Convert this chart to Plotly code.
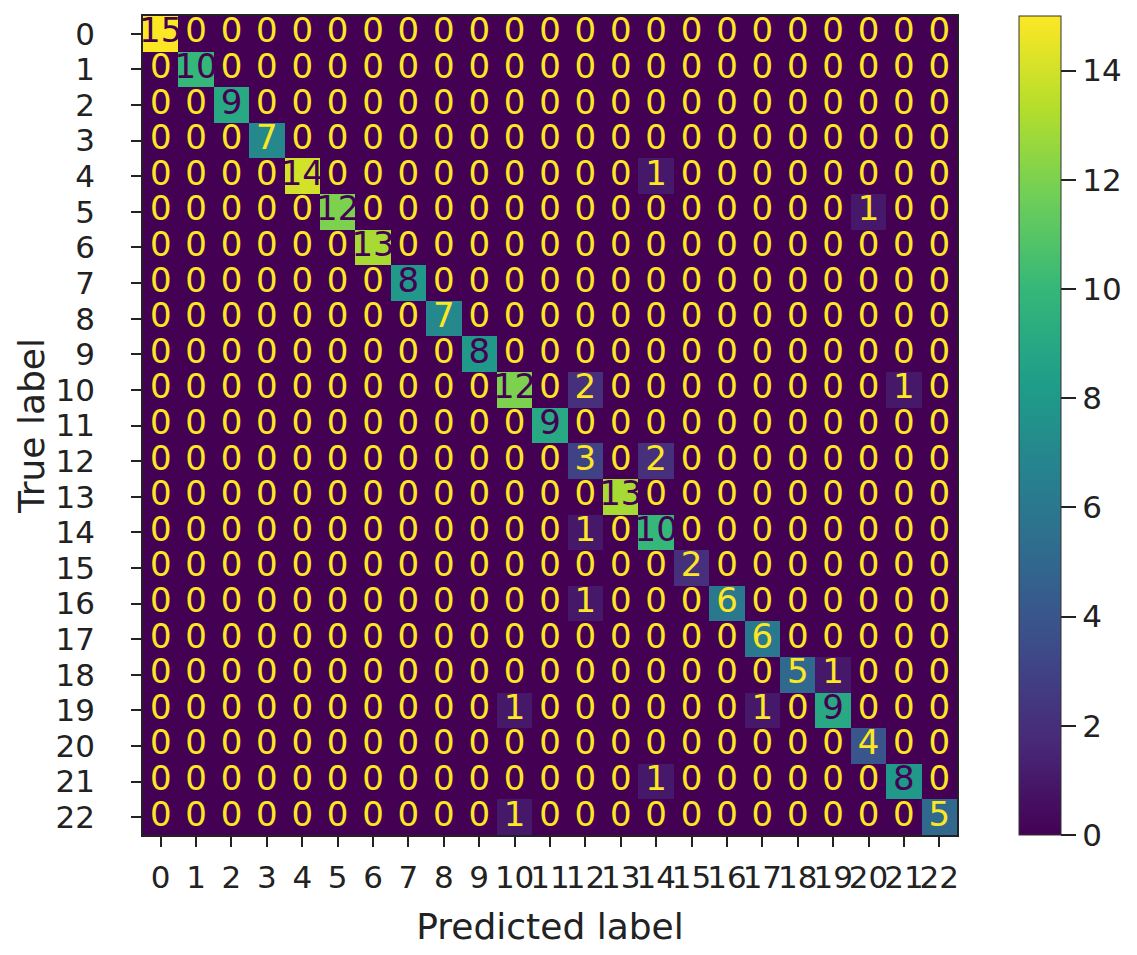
import numpy as np
import plotly.graph_objects as go

labels = list(range(23))

# diagonal counts (correct predictions per class)
diagonal = [15, 10, 9, 7, 14, 12, 13, 8, 7, 8, 12, 9, 3, 13, 10, 2, 6, 6, 5, 9, 4, 8, 5]

# misclassifications: (true label, predicted label, count)
off_diagonal = [
    (4, 14, 1),
    (5, 20, 1),
    (10, 12, 2),
    (10, 21, 1),
    (12, 14, 2),
    (14, 12, 1),
    (16, 12, 1),
    (18, 19, 1),
    (19, 10, 1),
    (19, 17, 1),
    (21, 14, 1),
    (22, 10, 1),
]

cm = np.zeros((23, 23), dtype=int)
for i, v in enumerate(diagonal):
    cm[i, i] = v
for t, p, v in off_diagonal:
    cm[t, p] = v

vmax = cm.max()
FONT = "DejaVu Sans"

fig = go.Figure()

fig.add_trace(go.Heatmap(
    z=cm, x=labels, y=labels,
    colorscale="Viridis", zmin=0, zmax=vmax,
    xgap=0, ygap=0, hoverinfo="z",
    colorbar=dict(
        x=1.076, xanchor="left", y=0.5, yanchor="middle",
        xpad=0, ypad=0,
        len=1.0, lenmode="fraction", thickness=42,
        outlinewidth=1, outlinecolor="#333333",
        tickvals=list(range(0, 15, 2)), ticks="outside", ticklen=15,
        tickwidth=1.5, tickcolor="#222222",
        tickfont=dict(family=FONT, size=31, color="#222222"),
    ),
))

# cell labels; light text on dark cells, dark text on bright cells
xs, ys, txt, cols = [], [], [], []
for i in labels:
    for j in labels:
        xs.append(j)
        ys.append(i)
        txt.append(str(cm[i, j]))
        cols.append("#440154" if cm[i, j] >= vmax / 2 else "#fde725")

fig.add_trace(go.Scatter(
    x=xs, y=ys, mode="text", text=txt,
    textfont=dict(family=FONT, size=34, color=cols),
    hoverinfo="skip", showlegend=False,
))

axis_common = dict(
    tickmode="array", tickvals=labels, ticktext=[str(v) for v in labels],
    ticks="outside", ticklen=10, tickwidth=1.5, tickcolor="#222222",
    showline=True, linecolor="#222222", linewidth=1.5, mirror=True,
    showgrid=False, zeroline=False, automargin=False,
    tickfont=dict(family=FONT, size=31, color="#222222"),
)

fig.update_xaxes(
    range=[-0.5, 22.5], tickangle=0, ticklabelstandoff=4, **axis_common,
    title=dict(text="Predicted label", standoff=20,
               font=dict(family=FONT, size=36, color="#222222")),
)
fig.update_yaxes(
    range=[22.5, -0.5], ticklabelstandoff=30, **axis_common,
    title=dict(text="True label", standoff=0,
               font=dict(family=FONT, size=36, color="#222222")),
)

fig.update_layout(
    width=1137, height=955,
    margin=dict(l=135, r=188, t=8, b=128, autoexpand=False),
    plot_bgcolor="white", paper_bgcolor="white",
    showlegend=False,
)

fig.write_html("out.html")
